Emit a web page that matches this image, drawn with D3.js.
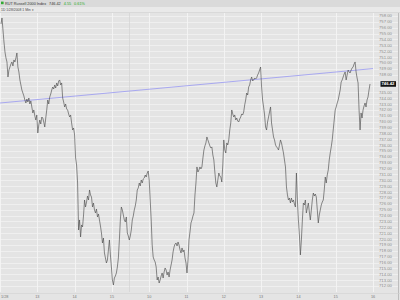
<!DOCTYPE html>
<html>
<head>
<meta charset="utf-8">
<script src="https://d3js.org/d3.v7.min.js"></script>
<style>
  body { margin: 0; background: #e4e4e4; }
  svg { display: block; font-family: "Liberation Sans", Arial, sans-serif; }
</style>
</head>
<body>
<div id="chart"></div>
<script>
    // header text
    const symbolName = "RUT Russell 2000 Index";
    const lastPrice = 746.42;
    const changeText = ["4.55", "0.61%"];
    const subTitle = "1D  1/28/2008  1 Min \u25BE";

    // time axis: one label every 60 minutes, samples every 1.6 minutes
    const timeLabels = ["1/28", "13", "14", "15", "10", "11", "12", "13", "14", "15", "16"];
    const tickEvery = 60;
    const sampleStep = 1.6;
    const sessionBreak = 208;

    // price axis labels (every 1.00)
    const priceTop = 758, priceBottom = 712;

    // blue trend line, value at start and end of the window
    const trend = [743.18, 749.04];

    const prices = [
        756.64, 757.66, 755.62, 753.57, 751.87, 750.85, 750.17, 747.61, 748.80, 749.31,
        749.83, 750.17, 749.49, 750.51, 750.17, 750.85, 751.70, 749.31, 748.46, 747.10,
        746.25, 745.39, 744.88, 744.38, 743.69, 743.18, 743.86, 743.35, 744.03, 743.01,
        743.52, 742.50, 741.48, 741.99, 740.97, 740.28, 741.14, 738.07, 739.43, 740.28,
        739.60, 740.79, 740.62, 739.94, 739.09, 740.62, 741.99, 743.69, 743.01, 744.20,
        744.71, 745.39, 745.90, 745.56, 746.25, 745.73, 746.59, 746.08, 746.93, 747.10,
        746.25, 746.59, 744.03, 743.35, 742.50, 743.01, 742.16, 741.99, 741.31, 740.79,
        741.14, 739.77, 738.58, 738.92, 737.73, 733.81, 732.62, 729.55, 721.54, 723.25,
        720.35, 722.40, 722.06, 724.10, 726.65, 725.46, 726.31, 727.33, 726.65, 728.36,
        727.51, 727.16, 725.46, 726.14, 724.95, 724.44, 725.12, 723.76, 724.27, 723.25,
        722.23, 721.03, 719.33, 720.18, 717.63, 716.77, 715.92, 716.43, 718.14, 719.84,
        717.29, 715.24, 713.02, 712.17, 713.36, 713.70, 714.22, 715.24, 716.77, 719.84,
        723.25, 725.46, 724.95, 724.10, 723.25, 722.91, 723.76, 721.03, 720.52, 719.84,
        720.52, 721.54, 723.25, 723.93, 724.95, 725.63, 726.65, 728.36, 728.70, 729.55,
        729.04, 730.06, 729.55, 730.23, 730.40, 730.91, 730.57, 731.25, 731.59, 730.06,
        726.65, 723.25, 718.99, 716.94, 716.43, 716.09, 715.24, 713.02, 713.53, 712.51,
        713.02, 713.70, 714.22, 713.36, 714.39, 715.07, 714.73, 713.87, 714.39, 713.53,
        714.73, 715.58, 716.43, 717.80, 718.65, 719.16, 719.33, 718.82, 719.50, 718.99,
        718.14, 717.63, 718.48, 717.80, 718.14, 716.77, 715.92, 714.22, 716.43, 719.84,
        721.20, 722.74, 723.25, 723.93, 724.44, 727.51, 729.55, 732.28, 731.42, 731.76,
        732.28, 731.94, 732.28, 733.81, 735.17, 735.86, 736.37, 737.39, 736.88, 736.37,
        735.86, 735.52, 735.69, 734.32, 733.47, 731.42, 729.55, 728.87, 730.06, 731.25,
        730.74, 730.57, 729.72, 732.62, 736.88, 735.17, 734.66, 736.37, 736.03, 736.88,
        738.58, 739.77, 741.99, 741.31, 740.79, 741.14, 740.28, 740.62, 740.11, 739.94,
        740.45, 740.79, 741.31, 741.14, 741.65, 742.84, 743.69, 744.88, 744.54, 745.90,
        746.25, 747.10, 747.61, 746.93, 747.10, 747.44, 747.27, 747.44, 747.95, 748.29,
        748.80, 749.31, 745.90, 743.69, 742.50, 741.14, 739.09, 738.58, 739.94, 740.79,
        741.65, 742.50, 739.77, 738.58, 737.39, 736.88, 736.03, 735.69, 735.52, 735.17,
        736.03, 736.88, 736.37, 735.52, 734.66, 733.47, 732.28, 728.87, 727.51, 726.65,
        726.99, 726.14, 726.99, 726.31, 726.65, 725.97, 725.46, 731.25, 726.65, 723.25,
        720.69, 717.29, 719.84, 723.25, 726.14, 725.80, 726.65, 724.44, 725.29, 726.14,
        724.61, 723.25, 724.95, 726.65, 727.84, 727.33, 727.67, 727.16, 724.95, 722.74,
        724.10, 724.95, 725.80, 726.31, 726.65, 728.36, 730.57, 729.55, 730.91, 731.76,
        733.47, 734.66, 735.69, 736.88, 738.58, 740.28, 741.99, 742.50, 743.18, 743.69,
        744.54, 745.39, 746.76, 747.10, 747.61, 748.12, 748.46, 747.10, 747.95, 748.80,
        748.46, 748.29, 748.80, 749.14, 749.31, 749.83, 750.17, 748.46, 747.44, 746.59,
        741.99, 738.58, 741.48, 740.62, 741.99, 742.67, 743.18, 742.50, 743.69, 744.20,
        745.39, 746.42
    ];

    const W = 400, H = 300;
    const plot = {left: 0, right: 373, top: 13, bottom: 292};

    const svg = d3.select("#chart")
        .append("svg")
        .attr("width", W)
        .attr("height", H);

    // backgrounds
    svg.append("rect").attr("x", 0).attr("y", 0).attr("width", W).attr("height", H).attr("fill", "#e4e4e4");
    svg.append("rect").attr("x", 0).attr("y", 0).attr("width", W).attr("height", 7).attr("fill", "#dadada");
    svg.append("rect").attr("x", 0).attr("y", 7).attr("width", W).attr("height", 6).attr("fill", "#e9e9e9");
    svg.append("line").attr("x1", 0).attr("x2", W).attr("y1", 12.5).attr("y2", 12.5)
        .attr("stroke", "#cfcfcf").attr("stroke-width", 0.6);

    const x = d3.scaleLinear()
        .domain([0, tickEvery * (timeLabels.length - 1)])
        .range([plot.left, plot.right]);

    const y = d3.scaleLinear()
        .domain([priceBottom, priceTop])
        .range([286, 16]);

    const priceTicks = d3.range(priceBottom, priceTop + 0.5, 1);

    // horizontal grid
    svg.append("g")
        .selectAll("line")
        .data(priceTicks)
        .enter()
        .append("line")
        .attr("x1", 0)
        .attr("x2", 398)
        .attr("y1", d => Math.round(y(d)) + 0.5)
        .attr("y2", d => Math.round(y(d)) + 0.5)
        .attr("stroke", "#f1f1f1")
        .attr("stroke-width", 0.8);

    // vertical grid
    svg.append("g")
        .selectAll("line")
        .data(timeLabels)
        .enter()
        .append("line")
        .attr("x1", (d, i) => Math.round(x(i * tickEvery)) + 0.5)
        .attr("x2", (d, i) => Math.round(x(i * tickEvery)) + 0.5)
        .attr("y1", plot.top)
        .attr("y2", plot.bottom)
        .attr("stroke", "#f4f4f4")
        .attr("stroke-width", 0.9);

    // session separator
    svg.append("line")
        .attr("x1", Math.round(x(sessionBreak)) + 0.5)
        .attr("x2", Math.round(x(sessionBreak)) + 0.5)
        .attr("y1", plot.top)
        .attr("y2", plot.bottom)
        .attr("stroke", "#d2d2d2")
        .attr("stroke-width", 0.7);

    // trend line
    svg.append("line")
        .attr("x1", x.range()[0])
        .attr("x2", x.range()[1])
        .attr("y1", y(trend[0]))
        .attr("y2", y(trend[1]))
        .attr("stroke", "#a0a0f0")
        .attr("stroke-width", 0.9);

    // price line
    const line = d3.line()
        .x((d, i) => x((i + 1) * sampleStep))
        .y(d => y(d));

    svg.append("path")
        .datum(prices)
        .attr("d", line)
        .attr("fill", "none")
        .attr("stroke", "#4e4e4e")
        .attr("stroke-width", 0.65)
        .attr("stroke-linejoin", "miter");

    // right price labels (the last price box covers the closest ones)
    svg.append("g")
        .selectAll("text")
        .data(priceTicks.filter(d => Math.abs(y(d) - y(lastPrice)) > 4.5))
        .enter()
        .append("text")
        .attr("x", 379)
        .attr("y", d => y(d))
        .attr("dy", "0.35em")
        .attr("font-size", "4.2px")
        .attr("fill", "#8a8a8a")
        .text(d => d.toFixed(2));

    // last price box
    svg.append("rect")
        .attr("x", 380.5)
        .attr("y", y(lastPrice) - 2.8)
        .attr("width", 15.5)
        .attr("height", 5.6)
        .attr("fill", "#111");
    svg.append("text")
        .attr("x", 381.5)
        .attr("y", y(lastPrice))
        .attr("dy", "0.35em")
        .attr("font-size", "4.2px")
        .attr("font-weight", "bold")
        .attr("fill", "#fff")
        .text(lastPrice.toFixed(2));

    // right border
    svg.append("line").attr("x1", 398.5).attr("x2", 398.5).attr("y1", 13).attr("y2", H)
        .attr("stroke", "#bdbdbd").attr("stroke-width", 1);

    // bottom time labels
    svg.append("line").attr("x1", 0).attr("x2", W).attr("y1", 293.5).attr("y2", 293.5)
        .attr("stroke", "#d2d2d2").attr("stroke-width", 0.6);
    svg.append("g")
        .selectAll("text")
        .data(timeLabels)
        .enter()
        .append("text")
        .attr("x", (d, i) => i === 0 ? 1 : x(i * tickEvery))
        .attr("y", 298)
        .attr("text-anchor", (d, i) => i === 0 ? "start" : "middle")
        .attr("font-size", "3.8px")
        .attr("fill", "#7a7a7a")
        .text(d => d);

    // header: pieces placed one after another
    svg.append("rect").attr("x", 1).attr("y", 1.6).attr("width", 2.6).attr("height", 2.6).attr("fill", "#33aa33");
    const headerParts = [
        {text: symbolName, color: "#333"},
        {text: lastPrice.toFixed(2), color: "#333"},
        {text: changeText[0], color: "#22aa22"},
        {text: changeText[1], color: "#22aa22"}
    ];
    let hx = 5;
    headerParts.forEach(p => {
        const t = svg.append("text").attr("x", hx).attr("y", 4.6)
            .attr("font-size", "3.8px").attr("fill", p.color).text(p.text);
        hx += t.node().getComputedTextLength() + 3;
    });
    svg.append("text").attr("x", 1).attr("y", 10.6).attr("font-size", "3.4px").attr("fill", "#444")
        .text(subTitle);
</script>
</body>
</html>
